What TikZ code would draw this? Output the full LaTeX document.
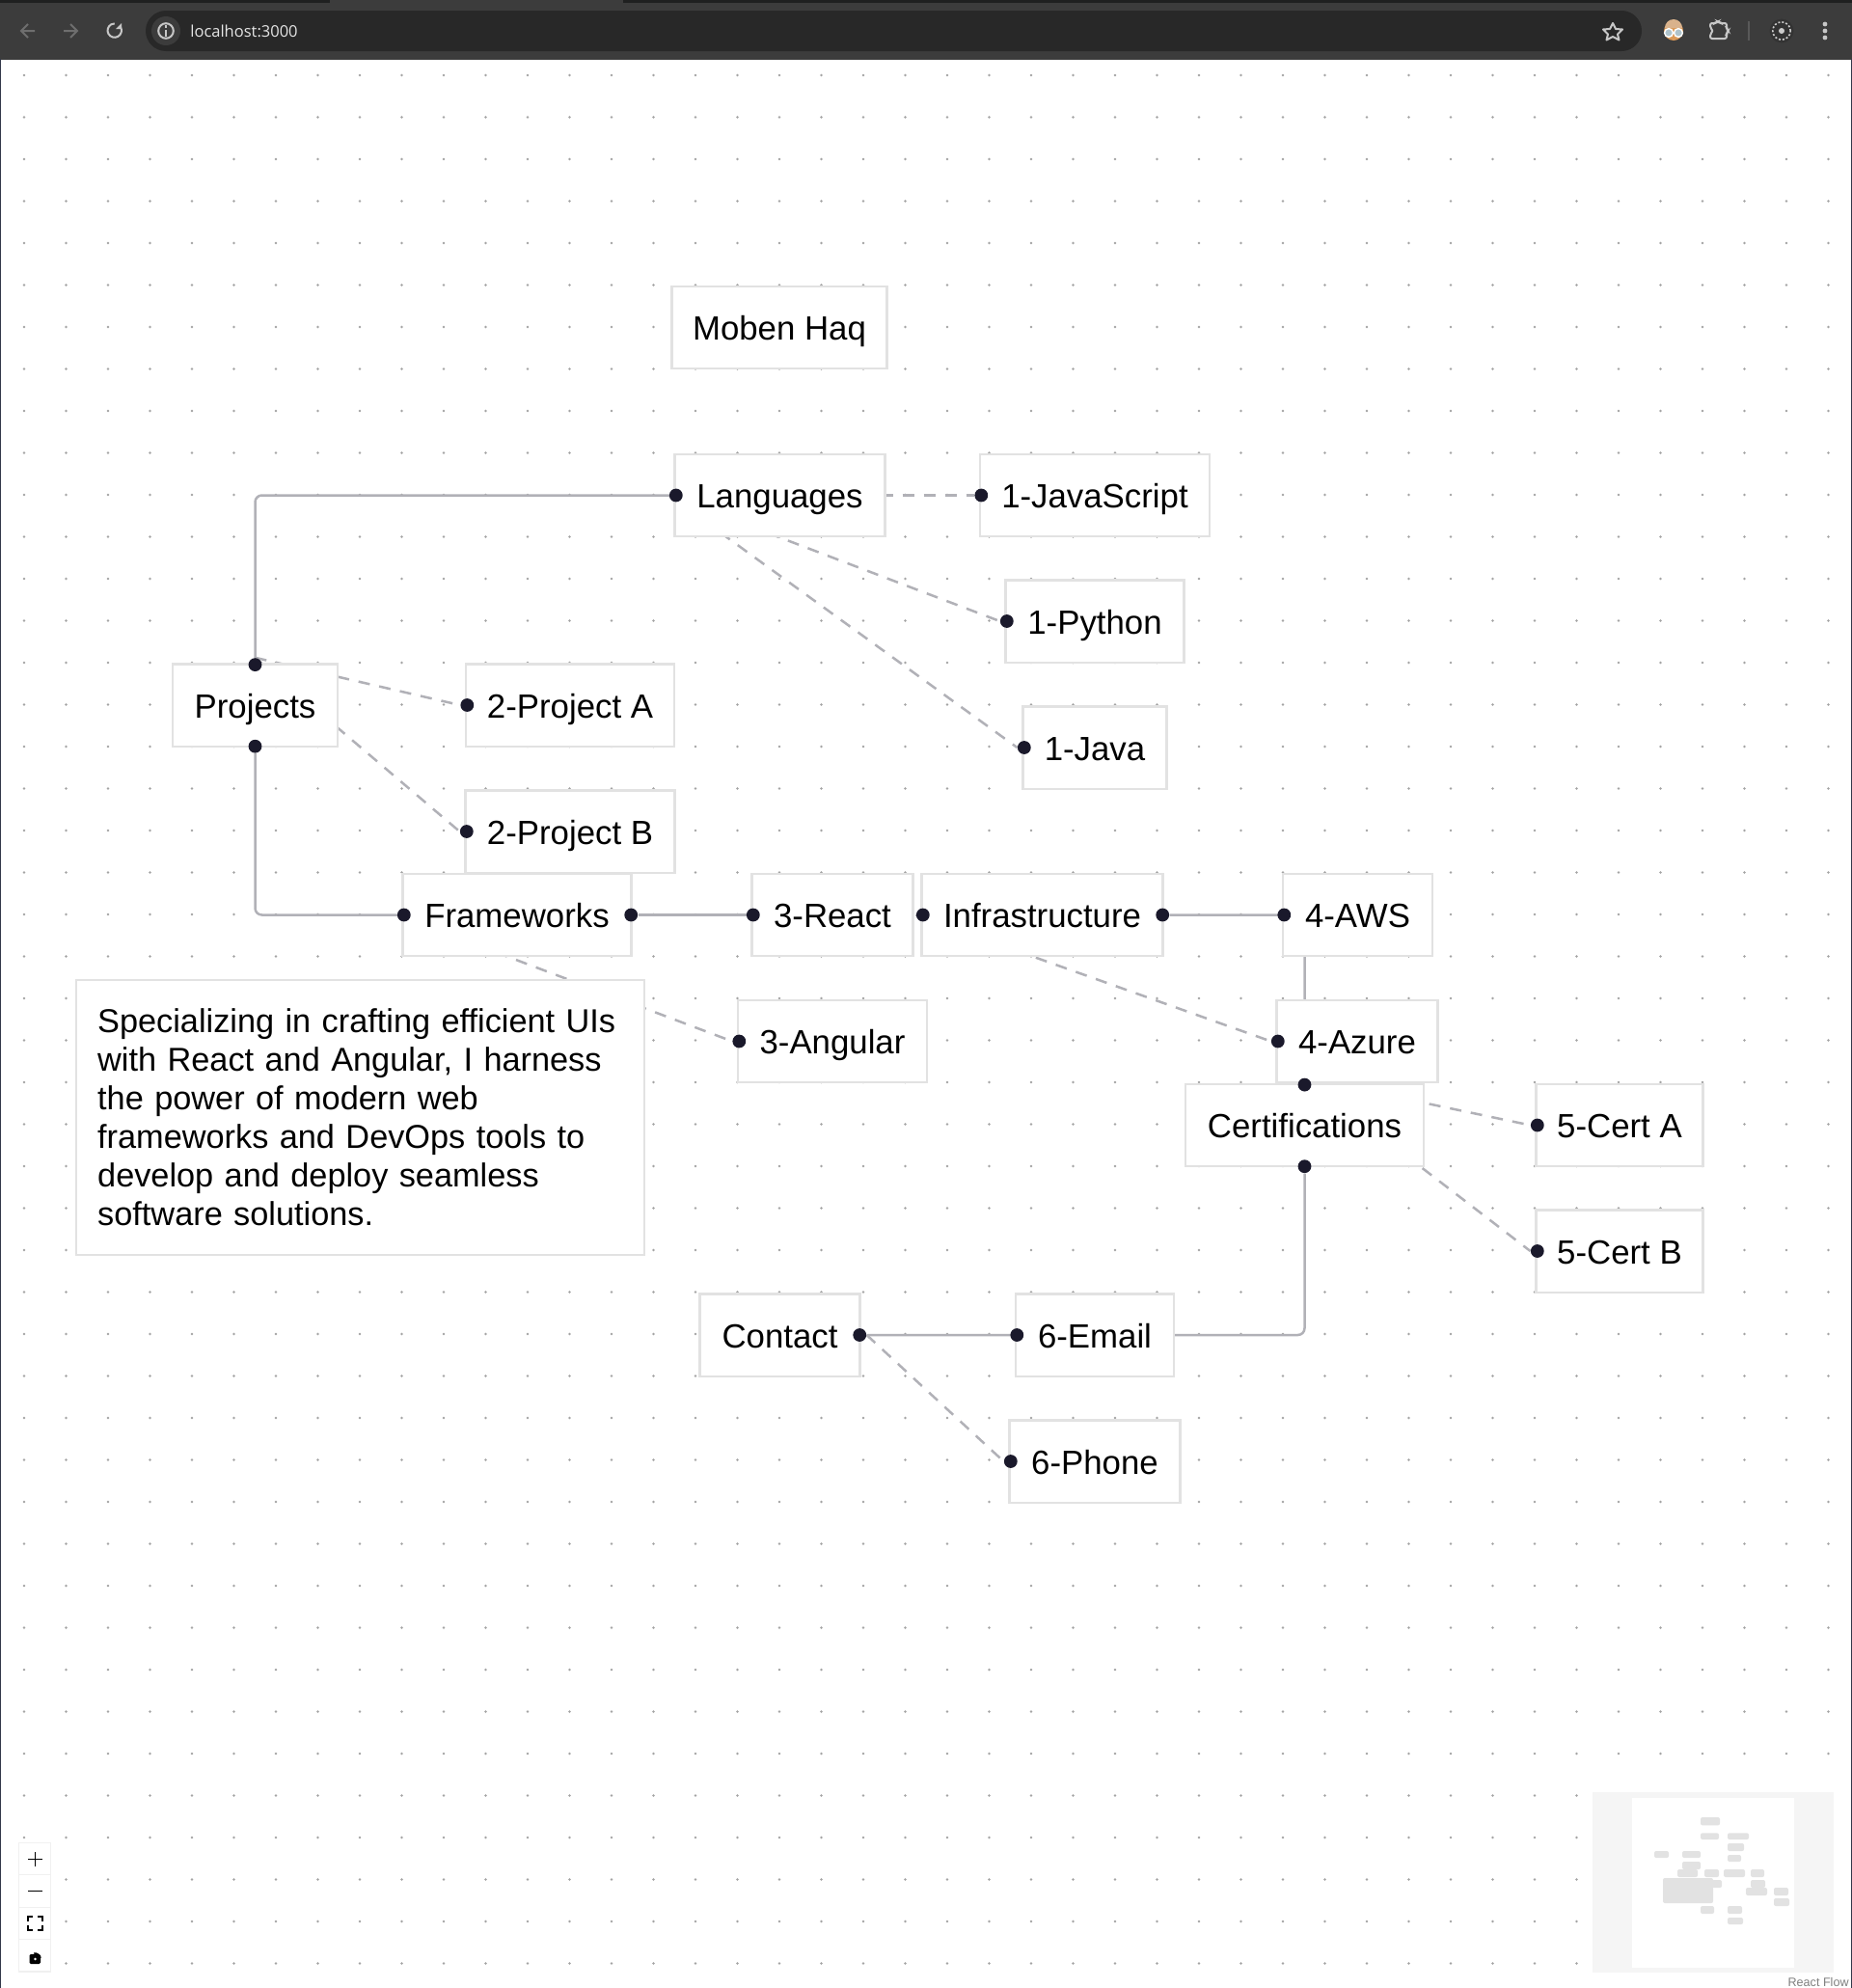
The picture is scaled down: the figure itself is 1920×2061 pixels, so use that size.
\documentclass[tikz,border=0pt]{standalone}
\usepackage{fontspec}
\setmainfont{Liberation Sans}
\newfontfamily\urlfont{Open Sans}
\usetikzlibrary{backgrounds}
\definecolor{edgegray}{HTML}{B1B1B7}
\definecolor{cardline}{HTML}{E2E2E2}
\definecolor{handlecol}{HTML}{1A192B}
\definecolor{griddot}{HTML}{A4A4A4}
\definecolor{barcol}{HTML}{3C3C3C}
\definecolor{bartop}{HTML}{1F2020}
\definecolor{barink}{HTML}{C7C7C7}
\definecolor{barfaint}{HTML}{6E6E6E}
\definecolor{urlbar}{HTML}{282828}
\definecolor{sideline}{HTML}{33384A}
\definecolor{minibg}{HTML}{F5F5F5}
\tikzset{
  card/.style={draw=cardline, fill=white, line width=1.2pt,
    inner sep=0pt, text=black, font=\fontsize{17.4}{20}\selectfont},
  cardrow/.style={card, minimum height=42.7pt, text height=13pt, text depth=0pt},
  hdl/.style={circle, fill=handlecol, minimum size=6.9pt, inner sep=0pt},
  side west/.style={xshift=1.25pt},
  side east/.style={xshift=-0.75pt},
  side north/.style={yshift=-1pt},
  side south/.style={yshift=0.6pt},
  link/.style={edgegray, line width=1.25pt, rounded corners=3.5pt},
  dashlink/.style={edgegray, line width=1.25pt, dash pattern=on 6pt off 5pt},
  minicard/.style={fill=cardline, rounded corners=1pt}
}
\begin{document}
\begin{tikzpicture}[x=0.5pt, y=-0.5pt]
  \useasboundingbox (0,0) rectangle (1920,2061);

  %% Cards: name / centre x / centre y / width / label.
  \foreach \id/\cx/\cy/\w/\lab in {
    moben/808/339.5/223/Moben Haq,
    langs/808.5/513.5/218/Languages,
    js/1135/513.5/238/1-JavaScript,
    py/1135/644/185/1-Python,
    java/1135/775/149/1-Java,
    projs/264.5/731/171/Projects,
    projA/591/731/216/2-Project A,
    projB/591/862/217/2-Project B,
    frames/536/948.5/237/Frameworks,
    react/863/948.5/167/3-React,
    infra/1080.5/948.5/250/Infrastructure,
    aws/1407.5/948.5/155/4-AWS,
    azure/1407/1079.5/167/4-Azure,
    angular/863/1079.5/196/3-Angular,
    certs/1352.5/1166.5/247/Certifications,
    certA/1679/1166.5/173/5-Cert A,
    certB/1679/1297/173/5-Cert B,
    contact/808.5/1384/166/Contact,
    email/1135/1384/164/6-Email,
    phone/1135/1515/177/6-Phone%
  } {
    \node[cardrow, minimum width=\w*0.5pt] (\id) at (\cx,\cy) {\lab};
  }
  \node[card, font=\fontsize{17.15}{20}\selectfont, anchor=north west, inner xsep=11pt, inner ysep=15pt,
    text width=272.5pt, align=left]
    (about) at (78,1014.5) {Specializing in crafting efficient UIs\\
    with React and Angular, I harness\\
    the power of modern web\\
    frameworks and DevOps tools to\\
    develop and deploy seamless\\
    software solutions.};

  %% Handles sit just inside the card borders.
  \foreach \h/\nd/\side in {
    hLang/langs/west, hJs/js/west, hPy/py/west, hJava/java/west,
    hProjT/projs/north, hProjB/projs/south, hProjA/projA/west, hProjBb/projB/west,
    hFrameL/frames/west, hFrameR/frames/east, hReact/react/west, hAngular/angular/west,
    hInfraL/infra/west, hInfraR/infra/east, hAws/aws/west, hAzure/azure/west,
    hCertT/certs/north, hCertB/certs/south, hCertA/certA/west, hCertBb/certB/west,
    hContact/contact/east, hEmail/email/west, hPhone/phone/west%
  } {
    \node[hdl, side \side] (\h) at (\nd.\side) {};
  }

  %% Everything below the cards: white page, dot grid, then the edges.
  \begin{scope}[on background layer]
    \fill[white] (0,0) rectangle (1920,2061);
    \foreach \i in {0,...,43} {
      \foreach \j in {0,...,45} {
        \fill[griddot] (25+43.5*\i, 78+43.5*\j) circle (0.65pt);
      }
    }
    \draw[link] (hLang.west) -| (hProjT.north);
    \draw[link] (hProjB.south) |- (hFrameL.west);
    \draw[link] (hFrameR.east) -- (hReact.west);
    \draw[link] (hInfraR.east) -| (hCertT.north);
    \draw[link] (hCertB.south) |- (hContact.east);
    \foreach \src/\dst in {
      hLang/hJs, hLang/hPy, hLang/hJava,
      hFrameL/hAngular, hInfraL/hAzure%
    } {
      \draw[dashlink] (\src.west) -- (\dst.west);
    }
    \foreach \dst in {hEmail, hPhone} {
      \draw[dashlink] (hContact.east) -- (\dst.west);
    }
    \foreach \dst in {hProjA, hProjBb} {
      \draw[dashlink] (hProjT.north) -- (\dst.west);
    }
    \foreach \dst in {hCertA, hCertBb} {
      \draw[dashlink] (hCertT.north) -- (\dst.west);
    }
  \end{scope}

  %% Browser bar
  \fill[barcol] (0,0) rectangle (1920,61.5);
  \fill[bartop] (0,0) rectangle (342,3);
  \fill[bartop] (646,0) rectangle (1920,3);
  \fill[urlbar, rounded corners=10.5pt] (151,11) rectangle (1702,53);
  \fill[barcol] (172,32) circle (7.5pt);
  \draw[barink, line width=1pt] (172,32) circle (3.9pt);
  \draw[barink, line width=1pt] (172,31) -- (172,38) (172,26) -- (172,28.5);
  \node[anchor=west, inner sep=0pt, text=black!10, font=\urlfont\fontsize{8.25}{10}\selectfont]
    (url) at (197,32) {localhost:3000};
  \draw[barfaint, line width=1pt] (36,32) -- (22,32) (29,25) -- (22,32) -- (29,39);
  \draw[barfaint, line width=1pt] (66,32) -- (80,32) (73,25) -- (80,32) -- (73,39);
  \draw[barink, line width=1pt] (125,28) arc[start angle=30, end angle=-270, radius=3.6pt];
  \fill[barink] (126,24) -- (126,30) -- (120,30) -- cycle;
  \draw[barink, line width=1pt, line join=round] (1672,24) -- (1675,30) -- (1682,30.5)
    -- (1677,35.5) -- (1678.5,41.5) -- (1672,38) -- (1665.5,41.5) -- (1667,35.5)
    -- (1662,30.5) -- (1669,30) -- cycle;
  %% Extension icons
  \fill[brown!70!orange!80!white] (1735,32) circle (5pt);
  \fill[brown!60!white] (1726,29) arc[start angle=180, end angle=0, radius=4.5pt] -- cycle;
  \draw[white, fill=cyan!25!gray!60, line width=0.7pt] (1730,34) circle (2.2pt) (1740,34) circle (2.2pt);
  \draw[barink, line width=1pt, rounded corners=1pt] (1773,24) -- (1779,24) -- (1781,22) -- (1783,24)
    -- (1790,24) -- (1790,30) -- (1792,32) -- (1790,34) -- (1790,40) -- (1773,40) -- (1773,35)
    -- (1776,32) -- (1773,29) -- cycle;
  \draw[gray!70!black, line width=1pt] (1813,22) -- (1813,42);
  \fill[black!80] (1847,32) circle (6.2pt);
  \draw[white!80!black, line width=0.8pt, dash pattern=on 1pt off 1pt] (1847,32) circle (4.6pt);
  \fill[white!80!black] (1847,32) circle (1.5pt);
  \foreach \ky in {25,32,39} {
    \fill[barink] (1892,\ky) circle (1.2pt);
  }
  \draw[sideline, line width=0.5pt] (0.5,61) -- (0.5,2061) (1919.5,61) -- (1919.5,2061);

  %% Zoom controls
  \fill[black!6] (19,1910) rectangle (53,2045);
  \foreach \by in {1911,1944.3,1977.5,2011} {
    \fill[white] (20,\by) rectangle (52,\by+32.4);
  }
  \draw[black, line width=0.9pt] (29,1927.5) -- (44,1927.5) (36.5,1920) -- (36.5,1935);
  \draw[black, line width=0.9pt] (29,1960.5) -- (44,1960.5);
  \draw[black, line width=0.9pt] (29,1992) |- (34,1987) (39,1987) -| (44,1992)
    (44,1996) |- (39,2001) (34,2001) -| (29,1996);
  \fill[black, rounded corners=0.7pt] (30.5,2026) rectangle (42,2036);
  \draw[black, line width=0.7pt] (35,2025) arc[start angle=100, end angle=10, radius=3pt];
  \fill[white] (36.5,2031) circle (0.7pt);

  %% Minimap
  \fill[minibg] (1651,1858) rectangle (1901,2045);
  \fill[white] (1691.7,1864) rectangle (1860,2040);
  \foreach \xa/\ya/\xb/\yb in {
    369/132/429/157, 369/181/426/201, 453/181/519/201, 453/213/504/237,
    453/249/495/270, 225/237/270/258, 312/237/369/258, 312/270/369/294,
    297/294/360/318, 381/294/426/318, 441/294/507/318, 525/294/567/318,
    525/327/570/351, 405/327/435/351, 252/321/408/399, 510/351/576/375,
    597/351/642/375, 597/384/645/408, 369/408/411/432, 453/408/498/432,
    453/444/501/465%
  } {
    \fill[minicard] (1640+\xa/3, 1840+\ya/3) rectangle (1640+\xb/3, 1840+\yb/3);
  }
  \node[anchor=east, inner sep=0pt, text=gray, font=\fontsize{6.3}{8}\selectfont]
    (credit) at (1917,2054.5) {React Flow};
\end{tikzpicture}
\end{document}
